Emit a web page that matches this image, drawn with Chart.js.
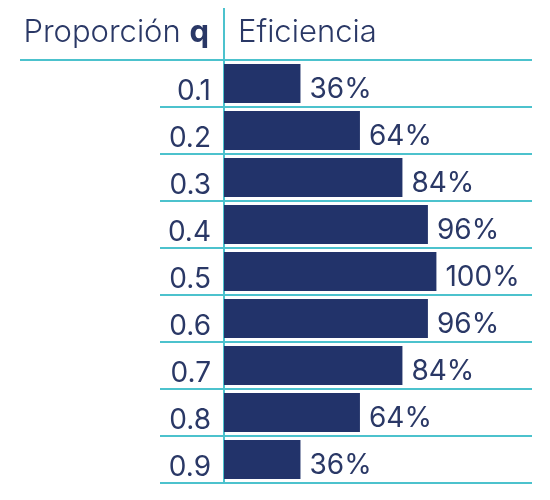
<!DOCTYPE html>
<html>
<head>
<meta charset="utf-8">
<script src="https://cdn.jsdelivr.net/npm/chart.js@4"></script>
<style>
  html, body { margin: 0; padding: 0; background: #fff; }
  #wrap { width: 550px; height: 500px; }
</style>
</head>
<body>
<div id="wrap"><canvas id="chart" width="550" height="500"></canvas></div>
<script>
// Data
const proportions = ["0.1", "0.2", "0.3", "0.4", "0.5", "0.6", "0.7", "0.8", "0.9"];
const efficiency = [36, 64, 84, 96, 100, 96, 84, 64, 36];

const navy = "#22336a";
const textColor = "#2a3866";
const teal = "#4cc2cd";
const fontFamily = "Inter, 'Open Sans', sans-serif";

// header text, top lines and value labels
const tablePlugin = {
    id: "tablePlugin",
    afterDraw(chart) {
        const ctx = chart.ctx;
        const area = chart.chartArea;
        const meta = chart.getDatasetMeta(0);

        ctx.save();
        // value labels
        ctx.fillStyle = textColor;
        ctx.font = "400 28px " + fontFamily;
        ctx.textAlign = "left";
        ctx.textBaseline = "middle";
        meta.data.forEach((bar, i) => {
            ctx.fillText(efficiency[i] + "%", bar.x + 9, bar.y + 6);
        });

        // header lines
        ctx.strokeStyle = teal;
        ctx.lineWidth = 2;
        ctx.beginPath();
        ctx.moveTo(20, area.top);
        ctx.lineTo(area.left - 60, area.top);
        ctx.moveTo(area.left, 8);
        ctx.lineTo(area.left, area.top);
        ctx.stroke();

        // header text
        const headY = area.top - 18;
        ctx.textBaseline = "alphabetic";
        ctx.font = "700 31px " + fontFamily;
        ctx.textAlign = "right";
        const qW = ctx.measureText("q").width;
        ctx.fillText("q", area.left - 15, headY);
        ctx.font = "300 31px " + fontFamily;
        ctx.fillText("Proporción ", area.left - 15 - qW, headY);
        ctx.textAlign = "left";
        ctx.fillText("Eficiencia", area.left + 14, headY);
        ctx.restore();
    }
};

new Chart(document.getElementById("chart"), {
    type: "bar",
    data: {
        labels: proportions,
        datasets: [{
            data: efficiency,
            backgroundColor: navy,
            barPercentage: 0.83,
            categoryPercentage: 1.0,
        }],
    },
    options: {
        indexAxis: "y",
        responsive: false,
        animation: false,
        layout: { padding: { top: 60, bottom: 17, right: 18, left: 0 } },
        plugins: {
            legend: { display: false },
            tooltip: { enabled: false },
        },
        scales: {
            x: {
                display: false,
                min: 0,
                max: 145,
            },
            y: {
                afterFit(scale) { scale.width = 224; },
                grid: {
                    color: teal,
                    lineWidth: 2,
                    tickLength: 64,
                    offset: true,
                },
                border: { color: teal, width: 2 },
                ticks: {
                    color: textColor,
                    padding: -51,
                    labelOffset: 8,
                    font: { family: fontFamily, size: 28, weight: "400" },
                },
            },
        },
    },
    plugins: [tablePlugin],
});
</script>
</body>
</html>
